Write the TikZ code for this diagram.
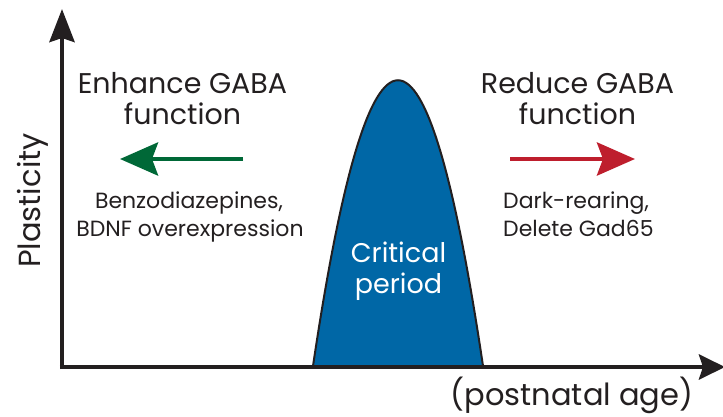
\documentclass[tikz,border=0pt]{standalone}
\usepackage{fontspec}
\setmainfont{Poppins}
\usetikzlibrary{arrows.meta}
\definecolor{axisgray}{RGB}{35,31,32}
\definecolor{cpblue}{RGB}{0,103,166}
\definecolor{gagreen}{RGB}{0,104,55}
\definecolor{gared}{RGB}{190,30,45}
\definecolor{txtgray}{RGB}{35,31,32}
\tikzset{
  axisline/.style={line width=4.5pt, draw=axisgray},
  bigtxt/.style={font=\fontsize{28.5}{31}\selectfont, text=txtgray, inner sep=0pt, anchor=base},
  axtxt/.style={font=\fontsize{30.5}{33}\selectfont, text=txtgray, inner sep=0pt, anchor=base},
  smalltxt/.style={font=\fontsize{22}{25}\selectfont, text=txtgray, inner sep=0pt, anchor=base},
  cptxt/.style={font=\fontsize{27}{29}\selectfont, text=white, inner sep=0pt, anchor=base},
  gaarrow/.style={line width=4.5pt, -{Stealth[length=38pt,width=33pt,inset=6pt]}}
}
\begin{document}
\begin{tikzpicture}[x=1pt,y=-1pt]
\useasboundingbox (0,0) rectangle (723,416);
% critical period curve
\filldraw[fill=cpblue, draw=axisgray, line width=2pt]
  (313,366) .. controls (369.7,-15) and (426.3,-15) .. (483,366) -- cycle;
% axes
\coordinate (ytip) at (62,9);
\coordinate (xtip) at (725,367);
\coordinate (corner) at (62,369.2);
\coordinate (xstart) at (59.8,367);
\draw[axisline, -{Stealth[length=33pt,width=25pt,inset=4pt]}] (corner) -- (ytip);
\draw[axisline, -{Stealth[length=26pt,width=25pt,inset=4pt]}] (xstart) -- (xtip);
% labels
\node[axtxt, rotate=90] (ylab) at (40,200.5) {Plasticity};
\node[axtxt] (xlab) at (572,405) {(postnatal age)};
\node[bigtxt] (en1) at (182.5,93) {Enhance GABA};
\node[bigtxt] (en2) at (182.5,124) {function};
\node[bigtxt] (re1) at (577.5,93) {Reduce GABA};
\node[bigtxt] (re2) at (577.5,124) {function};
\node[smalltxt] (bz1) at (189,208) {Benzodiazepines,};
\node[smalltxt] (bz2) at (190,236) {BDNF overexpression};
\node[smalltxt, anchor=base west] (dr1) at (503,208) {Dark-rearing,};
\node[smalltxt, anchor=base west] (dr2) at (503,236) {Delete Gad65};
\node[cptxt] (cp1) at (398.5,262) {Critical};
\node[cptxt] (cp2) at (398.5,293) {period};
% arrows
\coordinate (gs) at (243,159);
\coordinate (ge) at (120,159);
\coordinate (rs) at (510,159);
\coordinate (re) at (635,159);
\draw[gaarrow, draw=gagreen, fill=gagreen] (gs) -- (ge);
\draw[gaarrow, draw=gared, fill=gared] (rs) -- (re);
\end{tikzpicture}
\end{document}
